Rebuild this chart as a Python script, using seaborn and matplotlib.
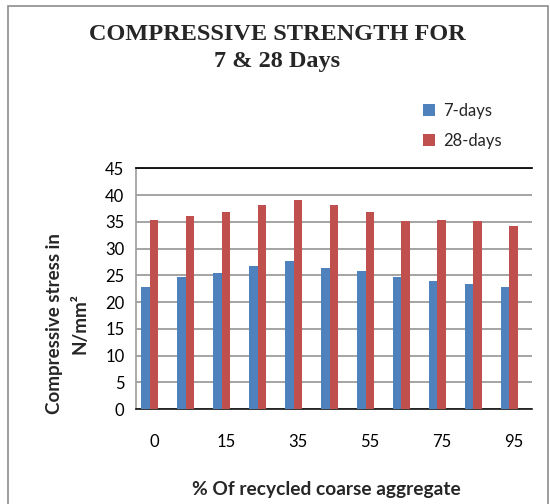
import matplotlib
matplotlib.use("Agg")
import matplotlib.pyplot as plt
from matplotlib.patches import Patch, Rectangle
import pandas as pd
import seaborn as sns

# % of recycled coarse aggregate replacing natural aggregate
pct_labels = ["0", "5", "15", "25", "35", "45", "55", "65", "75", "85", "95"]
# Compressive strength (N/mm²)
days_7 = [22.8, 24.7, 25.4, 26.7, 27.7, 26.4, 25.8, 24.7, 23.9, 23.4, 22.8]
days_28 = [35.3, 36.1, 36.8, 38.1, 39.1, 38.1, 36.8, 35.1, 35.3, 35.1, 34.2]
series = ["7-days", "28-days"]
colors = ["#4F81BD", "#C0504D"]

df = pd.DataFrame({
    "pct": pct_labels * 2,
    "series": [series[0]] * len(pct_labels) + [series[1]] * len(pct_labels),
    "value": days_7 + days_28,
})

sns.set_theme(style="white")
plt.rcParams["font.family"] = ["Lato", "DejaVu Sans"]

fig = plt.figure(figsize=(5.5, 5.04), dpi=100)
ax = fig.add_axes([136 / 550, 1 - 409 / 504, (531.7 - 136) / 550, (409 - 168.3) / 504])

# a third, empty slot in each cluster keeps the bars left of the category centre
slot_order = series + ["(none)"]
sns.barplot(data=df, x="pct", y="value", hue="series", hue_order=slot_order,
            order=pct_labels, palette=colors + ["#ffffff"], width=0.72,
            saturation=1, errorbar=None, legend=False, linewidth=0,
            ax=ax, zorder=3)

ax.set_ylim(0, 45)
ax.set_yticks(range(0, 46, 5))
ax.set_xticks(range(len(pct_labels)))
ax.set_xticklabels([lab if i % 2 == 0 else "" for i, lab in enumerate(pct_labels)])
ax.tick_params(axis="x", length=0, pad=18, labelsize=12, colors="black")
ax.tick_params(axis="y", length=4.3, width=1, color="#a0a0a0", pad=4,
               labelsize=12, colors="black")
for t in ax.get_yticklabels():
    t.set_color("black")
ax.yaxis.grid(True, color="#8c8c8c", linewidth=1.1, zorder=0)
ax.set_axisbelow(True)

ax.spines["right"].set_visible(False)
ax.spines["top"].set_color("black")
ax.spines["bottom"].set_color("black")
ax.spines["bottom"].set_linewidth(1.1)
ax.spines["left"].set_color("#a0a0a0")
ax.set_xlabel("")
ax.set_ylabel("")

fig.text(0.5035, 1 - 48 / 504, "COMPRESSIVE STRENGTH FOR\n7 & 28 Days",
         family="Liberation Serif", weight="bold", fontsize=17.5,
         ha="center", va="center", linespacing=1.34)

fig.text(326 / 550, 1 - 490 / 504, "% Of recycled coarse aggregate",
         weight="bold", fontsize=13.8, ha="center", va="center")
fig.text(55 / 550, 1 - 324 / 504, "Compressive stress in", rotation=90,
         weight="bold", fontsize=13.5, ha="center", va="center")
fig.text(80 / 550, 1 - 324 / 504, "N/mm²", rotation=90,
         weight="bold", fontsize=13.5, ha="center", va="center")

handles = [Patch(facecolor=c, edgecolor="none", label=s) for s, c in zip(series, colors)]
fig.legend(handles=handles, loc="upper left", bbox_to_anchor=(416 / 550, 1 - 96 / 504),
           frameon=False, fontsize=12, handlelength=0.75, handleheight=0.75,
           handletextpad=0.5, labelspacing=0.85, borderaxespad=0)

fig.patches.append(Rectangle((8 / 550, -0.02), (548 - 8) / 550, 1 - 5.5 / 504 + 0.02,
                             transform=fig.transFigure, fill=False,
                             edgecolor="#8c8c8c", linewidth=1.2))

fig.savefig("out.png", dpi=100)
